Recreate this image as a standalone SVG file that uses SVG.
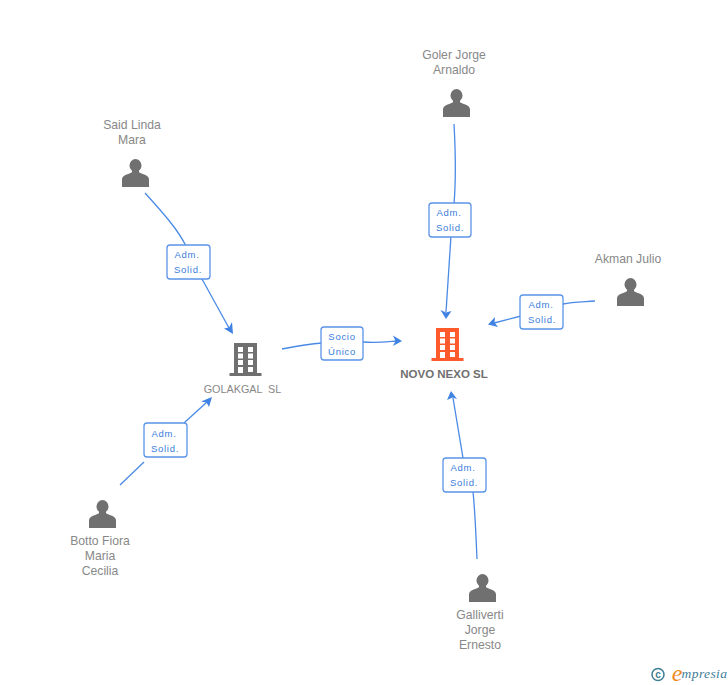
<svg xmlns="http://www.w3.org/2000/svg" width="728" height="685" viewBox="0 0 728 685">
<style>
text{font-family:"Liberation Sans",Arial,sans-serif;text-anchor:middle}
.n{font-size:12.200px;fill:#888}
.l{font-size:9.500px;fill:#3a7ddc;letter-spacing:.7px}
.c{fill:none;stroke:#4a8ae6;stroke-width:1.300}
.a{fill:#3f82e4}
.b{fill:#fff;stroke:#5a94e8;stroke-width:1.300}
.p{fill:#707070}
.w{fill:#fff}
</style>
<defs>
<g id="person"><ellipse cx="0" cy="-7.500" rx="6" ry="6.500" class="p"/><path class="p" d="M-3.500-3 L-3.500-1 C-5 1 -13 1.500 -13.500 6 L-13.500 14 L13.500 14 L13.500 6 C13 1.500 5 1 3.500-1 L3.500-3Z"/></g>
<g id="bld"><rect x="-11.500" y="-16" width="23" height="30" fill="currentColor"/><rect x="-16" y="14" width="32" height="3" fill="currentColor"/>
<g class="w"><rect x="-7.500" y="-12" width="5" height="5"/><rect x="2.500" y="-12" width="5" height="5"/><rect x="-7.500" y="-5.500" width="5" height="5"/><rect x="2.500" y="-5.500" width="5" height="5"/><rect x="-7.500" y="1" width="5" height="5"/><rect x="2.500" y="1" width="5" height="5"/><rect x="-7.500" y="8" width="5" height="6"/><rect x="2.500" y="8" width="5" height="5"/></g></g>
</defs>
<g id="connectors">
<path class="c" d="M454 124C456 160 456 180 454 204"/><path class="c" d="M451 236L446 312"/><path class="a" d="M446 319L440.500 310L446 312.500L451.500 311Z"/>
<path class="c" d="M145 193C165 215 178 230 186 246"/><path class="c" d="M202 279L229 328"/><path class="a" d="M233 334L224 328.500L229 327.500L232 322Z"/>
<path class="c" d="M282 349C298 346 310 344 322 343"/><path class="c" d="M363 342C378 343 385 342 396 341"/><path class="a" d="M402 341L393 346L395.500 341L393 335.500Z"/>
<path class="c" d="M595 301C580 302 572 302 563 304"/><path class="c" d="M521 316L494 323"/><path class="a" d="M488 324.500L495 317L494.500 322.500L498 327Z"/>
<path class="c" d="M120 485L144 462"/><path class="c" d="M184 423L207 402"/><path class="a" d="M212 397L209 407L206.500 402.500L201 401.500Z"/>
<path class="c" d="M477 559C476 535 475 510 473 492"/><path class="c" d="M463 458L453 398"/><path class="a" d="M451 391L457 399L452.500 397.500L447 400Z"/>
</g>
<g id="edge-labels">
<g><rect class="b" x="429" y="203" width="42" height="34" rx="3"/><text class="l" x="449" y="216">Adm.</text><text class="l" x="450" y="231">Solid.</text></g>
<g><rect class="b" x="167" y="245" width="43" height="34" rx="3"/><text class="l" x="187" y="258">Adm.</text><text class="l" x="188" y="273">Solid.</text></g>
<g><rect class="b" x="321" y="327" width="42" height="33" rx="3"/><text class="l" x="342" y="340">Socio</text><text class="l" x="342" y="355">Único</text></g>
<g><rect class="b" x="520" y="295" width="43" height="34" rx="3"/><text class="l" x="541" y="308">Adm.</text><text class="l" x="542" y="323">Solid.</text></g>
<g><rect class="b" x="144" y="423" width="43" height="34" rx="3"/><text class="l" x="164" y="437">Adm.</text><text class="l" x="165" y="452">Solid.</text></g>
<g><rect class="b" x="443" y="458" width="43" height="34" rx="3"/><text class="l" x="463" y="471">Adm.</text><text class="l" x="464" y="486">Solid.</text></g>
</g>
<g id="n-goler"><use href="#person" x="456.500" y="103"/><text class="n" x="454" y="59">Goler Jorge</text><text class="n" x="454" y="74">Arnaldo</text></g>
<g id="n-said"><use href="#person" x="135.500" y="173"/><text class="n" x="132" y="129">Said Linda</text><text class="n" x="132" y="144">Mara</text></g>
<g id="n-akman"><use href="#person" x="630.500" y="292"/><text class="n" x="628" y="263">Akman Julio</text></g>
<g id="n-botto"><use href="#person" x="102.500" y="514"/><text class="n" x="100" y="545">Botto Fiora</text><text class="n" x="100" y="560">Maria</text><text class="n" x="100" y="575">Cecilia</text></g>
<g id="n-galliverti"><use href="#person" x="482.500" y="588"/><text class="n" x="480" y="619">Galliverti</text><text class="n" x="480" y="634">Jorge</text><text class="n" x="480" y="649">Ernesto</text></g>
<g id="n-golakgal"><use href="#bld" x="245.500" y="359" color="#707070"/><text class="n" x="242.500" y="393" style="font-size:10.800px;white-space:pre">GOLAKGAL  SL</text></g>
<g id="n-novo"><use href="#bld" x="447.500" y="344" color="#ff5a2b"/><text x="444" y="378" style="font-size:11.500px;font-weight:700;fill:#707070">NOVO NEXO SL</text></g>
<g id="watermark"><circle cx="658" cy="674.500" r="6" fill="none" stroke="#3f7d96" stroke-width="1.500"/><text x="658" y="678" style="font-size:10px;font-weight:700;fill:#3f7d96">c</text><text x="677" y="681" style="font-size:24px;font-style:italic;fill:#f08a1d;font-family:'Liberation Serif',serif">e</text><text x="704.500" y="678" style="font-size:13.500px;font-style:italic;fill:#3f7d96;font-family:'Liberation Serif',serif;letter-spacing:.4px">mpresia</text></g>
</svg>
